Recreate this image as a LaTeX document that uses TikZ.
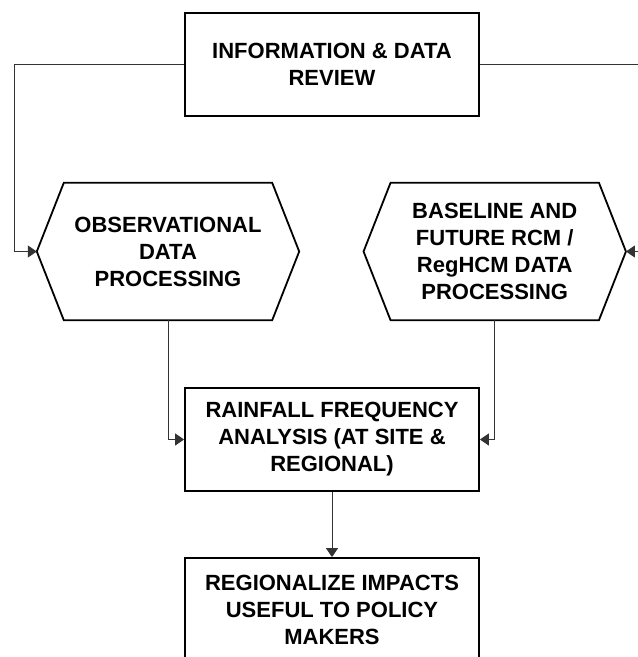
\documentclass[tikz,border=0pt]{standalone}
\usepackage{fontspec}
\setmainfont{Liberation Sans}
\usetikzlibrary{arrows.meta}

\begin{document}
\begin{tikzpicture}[x=1pt, y=-1pt, every node/.style={font=\bfseries\fontsize{22}{27}\selectfont, align=center}, >={Triangle[length=9pt,width=12pt]}, box/.style={draw, line width=1.8pt, minimum width=294pt, minimum height=103pt, inner sep=0pt}, hexa/.style={minimum width=262pt, minimum height=137pt, inner sep=0pt}, link/.style={black!80, line width=1pt}]
	\useasboundingbox (0,0) rectangle (638,657);
	\clip (0,0) rectangle (638,657);
	\node[box] (review) at (332,64.5) {INFORMATION \& DATA\\REVIEW};
	\node[hexa] (obs) at (168,251.5) {OBSERVATIONAL\\DATA\\PROCESSING};
	\node[hexa] (rcm) at (494.75,251.5) {BASELINE AND\\FUTURE RCM /\\RegHCM DATA\\PROCESSING};
	\foreach \hx in {obs,rcm} {\draw[line width=1.8pt] (\hx.west) -- ([xshift=27pt]\hx.north west) -- ([xshift=-27pt]\hx.north east) -- (\hx.east) -- ([xshift=-27pt]\hx.south east) -- ([xshift=27pt]\hx.south west) -- cycle;}
	\node[box] (freq) at (332,439.5) {RAINFALL FREQUENCY\\ANALYSIS (AT SITE \&\\REGIONAL)};
	\node[box] (policy) at (332,609.5) {REGIONALIZE IMPACTS\\USEFUL TO POLICY\\MAKERS};
	\coordinate (lbend) at (14,251.5);
	\coordinate (rbend) at (650,251.5);
	\draw[link, ->] (review.west) -| (lbend) -- (obs.west);
	\draw[link, ->] (review.east) -| (rbend) -- (rcm.east);
	\draw[link, ->] (obs.south) |- (freq.west);
	\draw[link, ->] (rcm.south) |- (freq.east);
	\draw[link, ->] (freq.south) -- (policy.north);
\end{tikzpicture}
\end{document}
